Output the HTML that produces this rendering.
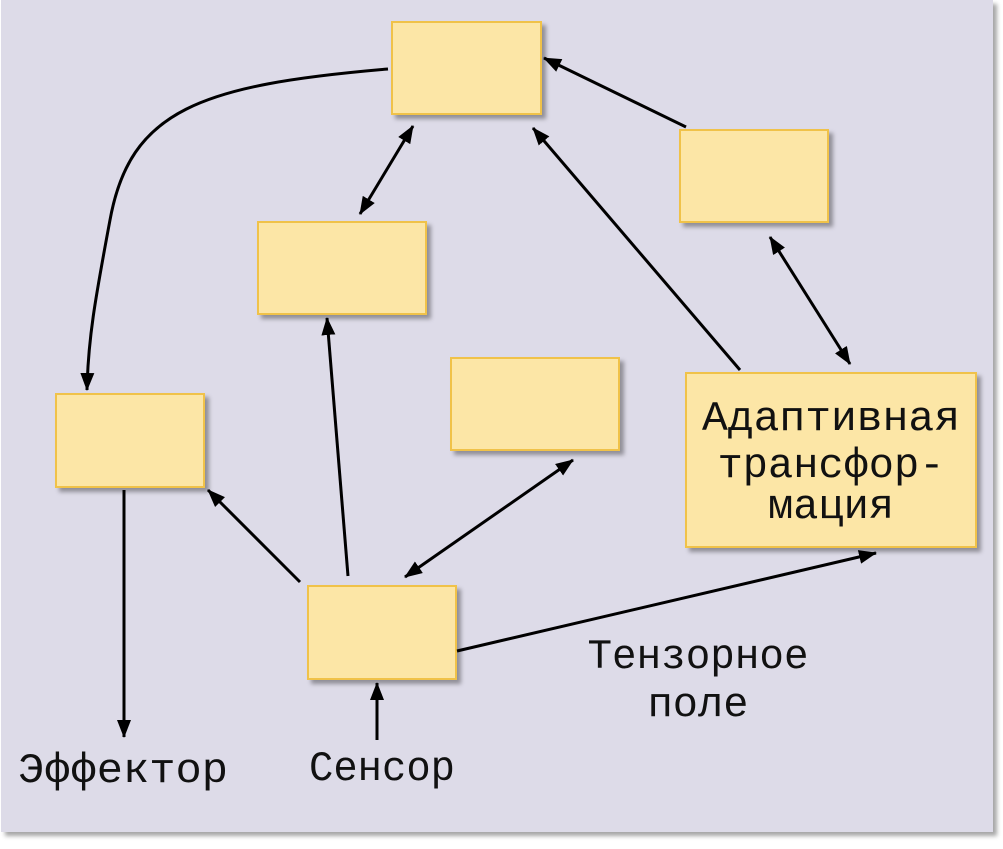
<!DOCTYPE html>
<html><head><meta charset="utf-8"><style>
html,body{margin:0;padding:0;background:#fff;}
svg text{font-family:"Liberation Mono","DejaVu Sans Mono",monospace;fill:#111;}
</style></head><body>
<svg width="1003" height="844" viewBox="0 0 1003 844" xmlns="http://www.w3.org/2000/svg">
<defs>
<marker id="a" markerWidth="18" markerHeight="14" refX="17" refY="7" orient="auto" markerUnits="userSpaceOnUse" viewBox="0 0 18 14"><path d="M0,0 L18,7 L0,14 z" fill="#000"/></marker>
<marker id="s" markerWidth="18" markerHeight="14" refX="1" refY="7" orient="auto" markerUnits="userSpaceOnUse" viewBox="0 0 18 14"><path d="M18,0 L0,7 L18,14 z" fill="#000"/></marker>
<filter id="sh" x="-10%" y="-10%" width="130%" height="130%"><feDropShadow dx="4" dy="4" stdDeviation="2" flood-color="#000" flood-opacity="0.35"/></filter>
</defs>
<rect x="1" y="0" width="992" height="832" fill="#dddbe8" filter="url(#sh)"/>
<g fill="#fce6a6" stroke="#f0c24a" stroke-width="2" filter="url(#sh)">
<rect x="392" y="22" width="149" height="92"/>
<rect x="680" y="130" width="148" height="92"/>
<rect x="258" y="222" width="168" height="92"/>
<rect x="451" y="358" width="168" height="92"/>
<rect x="56" y="394" width="148" height="93"/>
<rect x="686" y="373" width="290" height="174"/>
<rect x="308" y="586" width="148" height="93"/>
</g>
<g stroke="#000" stroke-width="3" fill="none">
<path d="M388,69 C200,85 130,110 110,220 C95,300 88,340 87,390" marker-end="url(#a)"/>
<line x1="413" y1="126" x2="360" y2="214" marker-start="url(#s)" marker-end="url(#a)"/>
<line x1="686" y1="127" x2="544" y2="58" marker-end="url(#a)"/>
<line x1="740" y1="370" x2="533" y2="128" marker-end="url(#a)"/>
<line x1="770" y1="237" x2="850" y2="364" marker-start="url(#s)" marker-end="url(#a)"/>
<line x1="348" y1="576" x2="327" y2="318" marker-end="url(#a)"/>
<line x1="300" y1="582" x2="208" y2="490" marker-end="url(#a)"/>
<line x1="573" y1="460" x2="405" y2="577" marker-start="url(#s)" marker-end="url(#a)"/>
<line x1="457" y1="651" x2="876" y2="553" marker-end="url(#a)"/>
<line x1="124" y1="490" x2="124" y2="737" marker-end="url(#a)"/>
<line x1="377" y1="740" x2="377" y2="683" marker-end="url(#a)"/>
</g>
<g font-size="42" text-anchor="middle">
<text x="831" y="430" textLength="258" lengthAdjust="spacingAndGlyphs">Адаптивная</text>
<text x="831" y="477">трансфор-</text>
<text x="831" y="518">мация</text>
<text x="123" y="782" textLength="210" lengthAdjust="spacingAndGlyphs">Эффектор</text>
<text x="382" y="780" textLength="146" lengthAdjust="spacingAndGlyphs">Сенсор</text>
<text x="698" y="668" textLength="221" lengthAdjust="spacingAndGlyphs">Тензорное</text>
<text x="698" y="716">поле</text>
</g>
</svg>
</body></html>
